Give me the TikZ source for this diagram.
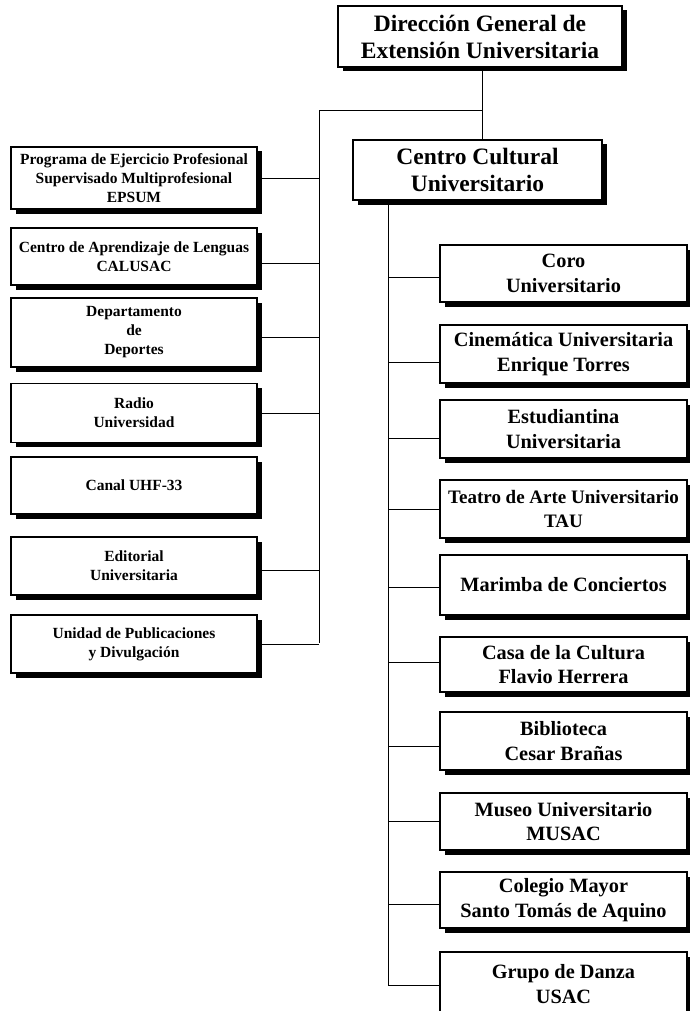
\documentclass[tikz,border=0pt]{standalone}
\usepackage{fontspec}
\setmainfont{Liberation Serif}
\usetikzlibrary{shadows}
\begin{document}
\begin{tikzpicture}[x=1pt,y=-1pt,
  box/.style={draw, line width=1.1pt, fill=white, align=center, inner sep=2pt,
    general shadow={fill=black, shadow xshift=4.5pt, shadow yshift=-4.5pt}},
  headbox/.style={box, font=\bfseries\fontsize{23.5pt}{27pt}\selectfont},
  leftbox/.style={box, minimum width=246pt, font=\bfseries\fontsize{15.5pt}{19pt}\selectfont},
  rightbox/.style={box, minimum width=247pt, font=\bfseries\fontsize{20.3pt}{24.5pt}\selectfont},
  narrowtext/.style={font=\bfseries\fontsize{19pt}{24.5pt}\selectfont},
  conn/.style={line width=0.9pt}]
\useasboundingbox (0,0) rectangle (690,1011);
% head boxes
\node[headbox, minimum width=284pt, minimum height=61pt] (dg) at (480,36.5) {Dirección General de\\Extensión Universitaria};
\node[headbox, minimum width=249pt, minimum height=60pt] (cc) at (477.5,170) {Centro Cultural\\Universitario};
% left column
\node[leftbox, minimum height=62pt] (ep) at (134,178) {Programa de Ejercicio Profesional\\Supervisado Multiprofesional\\EPSUM};
\node[leftbox, minimum height=57pt] (ca) at (134,256.5) {Centro de Aprendizaje de Lenguas\\CALUSAC};
\node[leftbox, minimum height=69pt] (de) at (134,332.5) {Departamento\\de\\Deportes};
\node[leftbox, minimum height=59pt] (ra) at (134,413) {Radio\\Universidad};
\node[leftbox, minimum height=57pt] (cn) at (134,485.5) {Canal UHF-33};
\node[leftbox, minimum height=58pt] (ed) at (134,566) {Editorial\\Universitaria};
\node[leftbox, minimum height=58pt] (up) at (134,644) {Unidad de Publicaciones\\y Divulgación};
% right column
\node[rightbox, minimum height=57pt] (co) at (563.5,273.5) {Coro\\Universitario};
\node[rightbox, minimum height=58pt] (ci) at (563.5,354) {Cinemática Universitaria\\Enrique Torres};
\node[rightbox, minimum height=58pt] (es) at (563.5,429) {Estudiantina\\Universitaria};
\node[rightbox, narrowtext, minimum height=58pt] (te) at (563.5,509) {Teatro de Arte Universitario\\TAU};
\node[rightbox, minimum height=60pt] (ma) at (563.5,585) {Marimba de Conciertos};
\node[rightbox, minimum height=55pt] (cs) at (563.5,664.5) {Casa de la Cultura\\Flavio Herrera};
\node[rightbox, minimum height=58pt] (bi) at (563.5,741) {Biblioteca\\Cesar Brañas};
\node[rightbox, minimum height=57pt] (mu) at (563.5,821.5) {Museo Universitario\\MUSAC};
\node[rightbox, minimum height=56pt] (cm) at (563.5,900) {Colegio Mayor\\Santo Tomás de Aquino};
\node[rightbox, minimum height=64pt] (gd) at (563.5,984) {Grupo de Danza\\USAC};
% connectors
\coordinate (jn) at (482,110);
\coordinate (lend) at (319,643);
\coordinate (rend) at (388,985);
\draw[conn] (dg.south -| jn) -- (cc.north -| jn);
\draw[conn] (jn) -| (lend);
\draw[conn] (cc.south -| rend) -- (rend);
\foreach \n/\s in {ep/0, ca/-6.5, de/-4.5, ra/0, ed/-4, up/0}
  \draw[conn] ([yshift=\s pt]\n.east) -- ([yshift=\s pt]\n.east -| lend);
\foreach \n/\s in {co/-3.5, ci/-8, es/-9, te/0, ma/-2, cs/2.5, bi/-5, mu/0, cm/-4, gd/-1}
  \draw[conn] ([yshift=\s pt]\n.west) -- ([yshift=\s pt]\n.west -| rend);
\end{tikzpicture}
\end{document}
